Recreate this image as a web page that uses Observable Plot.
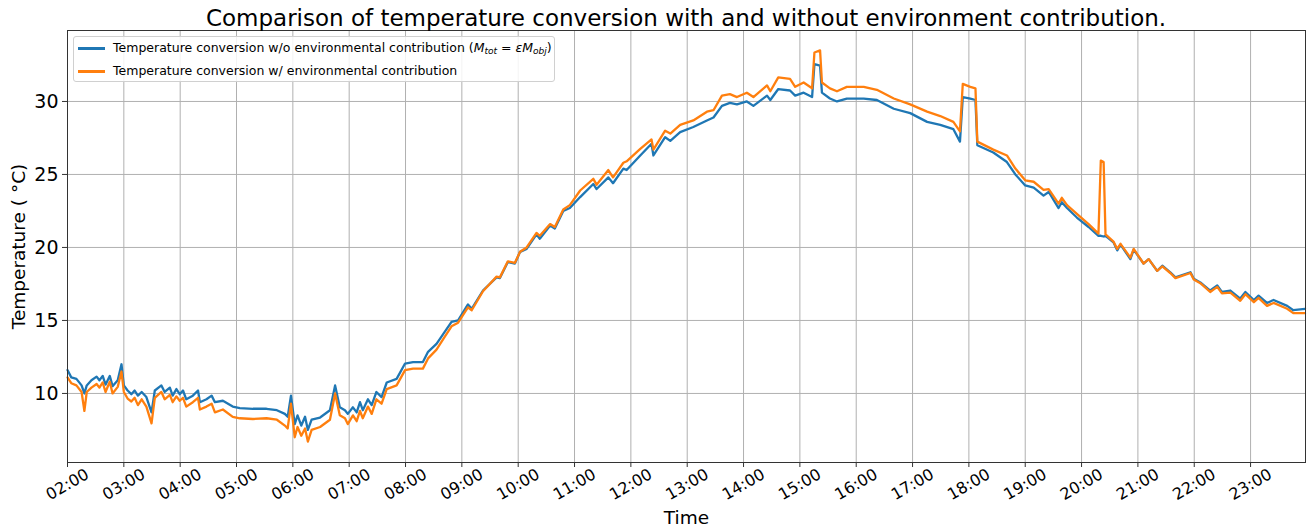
<!DOCTYPE html>
<html><head><meta charset="utf-8">
<script src="https://cdn.jsdelivr.net/npm/d3@7"></script>
<script src="https://cdn.jsdelivr.net/npm/@observablehq/plot@0.6"></script>
<style>
body{margin:0;background:#fff;font-family:"DejaVu Sans",sans-serif;}
#wrap{position:relative;width:1312px;height:527px;overflow:hidden;}
#title{height:28px;position:relative;}
#title span{position:absolute;left:67px;width:1238px;text-align:center;top:7px;font-size:23px;line-height:23px;white-space:nowrap;z-index:3;color:#000;}
#legend{position:absolute;left:73px;top:36px;width:482px;height:46px;box-sizing:border-box;border:1px solid #d0d0d0;border-radius:3px;background:rgba(255,255,255,0.85);font-size:12.5px;z-index:3;color:#000;}
#legend .row{position:absolute;left:0;height:20px;line-height:20px;white-space:nowrap;}
#legend .sw{position:absolute;left:4px;top:9px;width:27px;height:2.5px;}
#legend .tx{position:absolute;left:39px;top:0;}
#legend sub{font-size:9px;font-style:italic;vertical-align:-2px;line-height:0;}
g[aria-label="x-axis label"] text, g[aria-label="y-axis label"] text{font-size:18.5px;}
</style>
</head><body>
<div id="wrap">
  <div id="title"><span>Comparison of temperature conversion with and without environment contribution.</span></div>
  <div id="chart"></div>
  <div id="legend">
    <div class="row" style="top:1px"><span class="sw" style="background:#1f77b4"></span><span class="tx">Temperature conversion w/o environmental contribution (<i>M</i><sub>tot</sub> = <i>εM</i><sub>obj</sub>)</span></div>
    <div class="row" style="top:24px"><span class="sw" style="background:#ff7f0e"></span><span class="tx">Temperature conversion w/ environmental contribution</span></div>
  </div>
</div>
<script>
// minutes after 02:00
const minutesSince0200 = [0,4,9.5,15,18,20.5,25.5,31,34,37.5,40.5,45,48,53.5,57.5,60,64,68,71.5,75,79,84,89.5,93,100,103.5,109,112,116,119.5,123,126.5,133.5,139,141,148,153.5,157,165.5,176,183.5,197.5,212,223,231.5,234.5,238,242,245,249,253,256,260,269,279.5,285,290,295.5,298.5,304,308,311.5,314.5,320,324,329,334.5,340,350.5,359.5,368,378.5,384,393,401,409,416,426.5,430.5,442.5,457,460.5,469,476.5,482,489,499.5,503,514,519,528,535,546,560,563.5,576,581,592,595.5,610,622,624,636.5,642,652.5,666.5,681,688,697,705.5,713,723.5,730.5,745,748.5,757,769.5,775,784,793,795.5,801.5,803.5,812,819.5,830,848,862,880,897.5,915.5,929.5,943.5,950.5,953.5,961.5,967,969,986,1000.5,1009.5,1020,1029,1039.5,1045,1055.5,1059,1064.5,1075,1087.5,1098,1100.5,1103.5,1105.5,1114,1118,1121.5,1132,1135.5,1146,1151.5,1160.5,1166,1174.5,1180,1196,1199.5,1206.5,1217,1224.5,1229.5,1238.5,1249,1254.5,1263.5,1268.5,1277.5,1284.5,1299,1305.5,1318];

// Temperature conversion w/o environmental contribution
const tempWithout = [11.6,11.1,11.0,10.55,10.0,10.55,10.9,11.15,10.9,11.2,10.6,11.2,10.5,10.9,12.0,10.55,10.2,9.95,10.2,9.85,10.1,9.75,8.7,10.2,10.55,10.1,10.4,9.85,10.3,9.95,10.2,9.6,9.85,10.2,9.4,9.6,9.85,9.4,9.5,9.1,9.0,8.95,8.95,8.85,8.6,8.4,9.85,7.9,8.5,7.8,8.4,7.5,8.2,8.35,8.85,10.55,9.05,8.85,8.6,9.05,8.7,9.4,8.85,9.6,9.2,10.1,9.75,10.75,11.0,12.05,12.15,12.15,12.85,13.4,14.15,14.9,15.0,16.1,15.8,17.05,17.95,17.9,19.0,18.9,19.7,19.9,20.9,20.6,21.5,21.3,22.5,22.7,23.45,24.35,24.0,24.8,24.4,25.4,25.3,26.3,27.1,26.3,27.55,27.3,27.9,28.25,28.7,28.9,29.7,29.9,29.8,30.0,29.7,30.4,30.1,30.85,30.75,30.4,30.6,30.3,32.55,32.45,30.6,30.2,30.0,30.2,30.2,30.1,29.5,29.2,28.6,28.4,28.1,27.25,30.3,30.2,30.1,27.0,26.5,25.85,25.0,24.25,24.1,23.55,23.8,22.7,23.1,22.7,22.05,21.4,20.8,20.8,20.75,20.8,20.35,19.8,20.2,19.2,19.85,18.9,19.2,18.4,18.75,18.3,17.95,18.3,17.85,17.6,17.05,17.4,16.95,17.05,16.5,16.95,16.4,16.7,16.2,16.4,16.0,15.7,15.8];

// Temperature conversion w/ environmental contribution
const tempWith = [11.1,10.7,10.55,10.1,8.8,10.1,10.4,10.65,10.4,10.75,10.1,10.8,10.0,10.45,11.5,10.1,9.65,9.45,9.7,9.2,9.6,9.1,7.95,9.7,10.1,9.6,9.9,9.4,9.8,9.5,9.7,9.1,9.4,9.7,8.9,9.1,9.3,8.7,8.9,8.4,8.3,8.25,8.3,8.2,7.8,7.6,9.3,7.0,7.7,7.1,7.6,6.7,7.5,7.7,8.2,10.0,8.5,8.3,7.9,8.5,8.1,8.8,8.3,9.1,8.6,9.6,9.3,10.3,10.55,11.6,11.7,11.7,12.4,13.0,13.8,14.6,14.85,15.9,15.7,17.0,18.0,17.95,19.05,18.95,19.7,20.0,21.0,20.8,21.6,21.4,22.6,22.9,23.9,24.7,24.3,25.3,24.8,25.8,25.9,26.75,27.4,26.7,28.0,27.8,28.4,28.7,29.3,29.4,30.4,30.5,30.3,30.6,30.3,31.1,30.7,31.65,31.55,31.0,31.3,30.9,33.35,33.5,31.3,30.9,30.7,31.0,31.0,30.8,30.2,29.8,29.3,29.0,28.6,27.95,31.2,31.0,30.9,27.25,26.7,26.3,25.4,24.6,24.5,23.95,24.0,23.0,23.4,22.9,22.3,21.6,20.95,25.95,25.85,20.9,20.4,19.9,20.25,19.3,19.9,18.9,19.2,18.4,18.7,18.25,17.9,18.25,17.8,17.55,16.95,17.3,16.85,16.9,16.35,16.8,16.25,16.55,16.0,16.2,15.8,15.5,15.5];

const hourLabels = ["02:00","03:00","04:00","05:00","06:00","07:00","08:00","09:00","10:00","11:00","12:00","13:00","14:00","15:00","16:00","17:00","18:00","19:00","20:00","21:00","22:00","23:00"];
const yTicks = [10, 15, 20, 25, 30];
const xEndMinutes = 1318.5;
const yDomain = [5.27, 34.86];

const base = Date.UTC(2020, 0, 1, 2, 0);
const toDate = m => new Date(base + m * 60000);
const parseHM = s => { const [h, mm] = s.split(":").map(Number); return new Date(Date.UTC(2020, 0, 1, h, mm)); };
const hourTicks = hourLabels.map(parseHM);

const rows = minutesSince0200.map((m, i) => ({time: toDate(m), without: tempWithout[i], with: tempWith[i]}));

const chart = Plot.plot({
  width: 1312, height: 499,
  marginTop: 2, marginBottom: 65, marginLeft: 67, marginRight: 7,
  style: {background: "transparent", fontFamily: "DejaVu Sans", color: "#000", overflow: "visible"},
  x: {type: "utc", domain: [toDate(0), toDate(xEndMinutes)]},
  y: {domain: yDomain},
  marks: [
    Plot.gridX(hourTicks, {stroke: "#b0b0b0", strokeOpacity: 1, strokeWidth: 1}),
    Plot.gridY(yTicks, {stroke: "#b0b0b0", strokeOpacity: 1, strokeWidth: 1}),
    Plot.lineY(rows, {x: "time", y: "without", stroke: "#1f77b4", strokeWidth: 2.3}),
    Plot.lineY(rows, {x: "time", y: "with", stroke: "#ff7f0e", strokeWidth: 2.3}),
    Plot.frame({stroke: "#333", strokeWidth: 1}),
    Plot.axisX(hourTicks, {tickFormat: d3.utcFormat("%H:%M"), tickRotate: -30, textAnchor: "middle", lineAnchor: "middle",
      tickSize: 5, tickPadding: 17, fontSize: 16, label: "Time", labelArrow: "none", labelAnchor: "center", labelOffset: 61, stroke: "#333"}),
    Plot.axisY(yTicks, {tickSize: 5, tickPadding: 4, fontSize: 19, label: "Temperature ( °C)", labelArrow: "none", labelAnchor: "center", labelOffset: 56, stroke: "#333"})
  ]
});
document.getElementById("chart").appendChild(chart);
</script>
</body></html>
